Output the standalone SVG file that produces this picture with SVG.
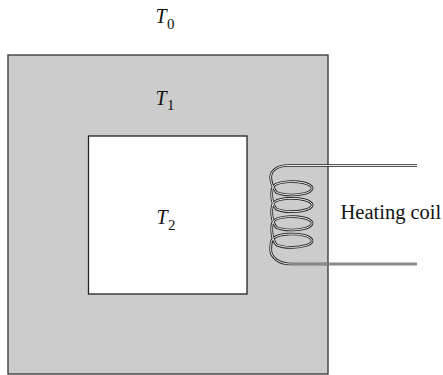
<svg xmlns="http://www.w3.org/2000/svg" width="443" height="375" viewBox="0 0 443 375">
<style>
text{font-family:"Liberation Serif","Times New Roman",serif;fill:#111}
.v{font-size:20px;font-style:italic}
.s{font-size:15px}
.w1{fill:none;stroke:#222;stroke-width:2.700}
.w2{fill:none;stroke:#eee;stroke-width:1}
</style>
<defs>
<path id="coil" d="M417 165.500H288C277 165.500 270.700 171 270.700 177C270.700 182 272 186 276.500 192.500A20 6.700 0 1 0 274.500 185.100C270.500 188.300 270.500 203 276.500 209.200A20 6.700 0 1 0 274.500 201.800C270.500 205 270.500 221 276.500 227.500A20 6.700 0 1 0 274.500 220.100C270.500 223.300 270.500 238 276.500 244.900A20 6.700 0 1 0 274.500 237.500C270.700 240 270.700 245 270.700 250C270.700 257 279 264 290 264H417"/>
</defs>
<g id="outer-block"><rect x="8" y="55" width="320" height="319" fill="#cccccc" stroke="#333" stroke-width="1.300"/></g>
<g id="inner-cavity"><rect x="88.500" y="136" width="158.500" height="158" fill="#fff" stroke="#222" stroke-width="1.300"/></g>
<g id="coil-wire"><use href="#coil" class="w1"/><use href="#coil" class="w2"/></g>
<g id="labels">
<text class="v" x="155.500" y="23">T</text><text class="s" x="167" y="29">0</text>
<text class="v" x="155.500" y="105">T</text><text class="s" x="167" y="110">1</text>
<text class="v" x="156.500" y="224">T</text><text class="s" x="168" y="229.500">2</text>
<text x="340.500" y="219" font-size="20.500">Heating coil</text>
</g>
</svg>
